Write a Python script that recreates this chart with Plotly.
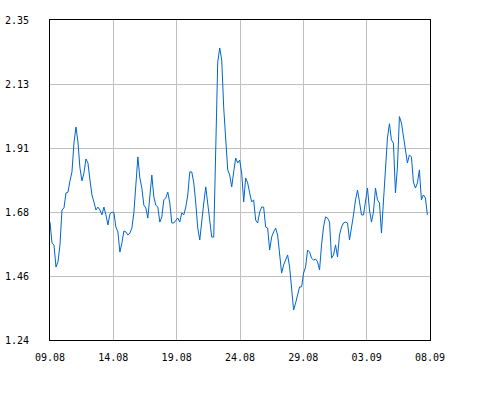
import pandas as pd
import plotly.graph_objects as go

# значения курса (шаг ~3.8 часа начиная с 09.08)
values = [
    1.649, 1.576, 1.570, 1.493, 1.511, 1.570, 1.691, 1.698, 1.750, 1.753,
    1.792, 1.823, 1.923, 1.979, 1.927, 1.837, 1.792, 1.819, 1.868, 1.854,
    1.795, 1.743, 1.719, 1.691, 1.701, 1.691, 1.674, 1.701, 1.674, 1.639,
    1.677, 1.684, 1.681, 1.632, 1.615, 1.545, 1.576, 1.618, 1.615, 1.604,
    1.611, 1.628, 1.681, 1.771, 1.875, 1.802, 1.767, 1.708, 1.698, 1.663,
    1.726, 1.812, 1.736, 1.708, 1.701, 1.649, 1.667, 1.726, 1.733, 1.753,
    1.715, 1.646, 1.646, 1.656, 1.663, 1.649, 1.681, 1.674, 1.701, 1.743,
    1.823, 1.823, 1.785, 1.715, 1.628, 1.587, 1.663, 1.715, 1.771, 1.708,
    1.663, 1.597, 1.597, 1.968, 2.204, 2.253, 2.211, 2.045, 1.941, 1.830,
    1.812, 1.771, 1.823, 1.871, 1.854, 1.864, 1.819, 1.719, 1.802, 1.785,
    1.750, 1.719, 1.726, 1.656, 1.646, 1.684, 1.701, 1.701, 1.632, 1.628,
    1.552, 1.597, 1.615, 1.628, 1.604, 1.542, 1.472, 1.500, 1.517, 1.535,
    1.493, 1.403, 1.344, 1.368, 1.396, 1.424, 1.424, 1.472, 1.493, 1.552,
    1.545, 1.524, 1.517, 1.521, 1.511, 1.483, 1.570, 1.632, 1.667, 1.663,
    1.649, 1.524, 1.535, 1.570, 1.528, 1.604, 1.632, 1.646, 1.649, 1.646,
    1.587, 1.628, 1.674, 1.726, 1.760, 1.719, 1.674, 1.674, 1.726, 1.767,
    1.691, 1.649, 1.684, 1.767, 1.726, 1.715, 1.611, 1.719, 1.802, 1.941,
    1.990, 1.934, 1.923, 1.750, 1.840, 2.015, 1.993, 1.941, 1.889, 1.854,
    1.882, 1.875, 1.788, 1.767, 1.785, 1.830, 1.726, 1.743, 1.733, 1.674,
]
dates = pd.date_range("2024-08-09 00:00", periods=len(values), freq="227min")

x_ticks = pd.date_range("2024-08-09", "2024-09-08", freq="5D")
x_labels = [d.strftime("%d.%m") for d in x_ticks]
y_ticks = [1.24, 1.462, 1.684, 1.906, 2.128, 2.35]
y_labels = ["1.24", "1.46", "1.68", "1.91", "2.13", "2.35"]

fig = go.Figure()
fig.add_trace(go.Scatter(
    x=dates,
    y=values,
    mode="lines",
    line=dict(color="#0066cc", width=1),
    hoverinfo="skip",
))

font = dict(family="DejaVu Sans Mono", size=10, color="#000000")

fig.update_layout(
    width=490,
    height=400,
    margin=dict(l=50, r=60, t=20, b=60),
    paper_bgcolor="white",
    plot_bgcolor="white",
    showlegend=False,
    font=font,
    xaxis=dict(
        range=[x_ticks[0], x_ticks[-1]],
        tickvals=list(x_ticks),
        ticktext=x_labels,
        showgrid=True,
        gridcolor="#c0c0c0",
        gridwidth=1,
        showline=True,
        linecolor="black",
        linewidth=1,
        mirror=True,
        ticks="",
        ticklabelstandoff=8,
        zeroline=False,
        automargin=False,
        tickfont=font,
    ),
    yaxis=dict(
        range=[1.24, 2.35],
        tickvals=y_ticks,
        ticktext=y_labels,
        showgrid=True,
        gridcolor="#c0c0c0",
        gridwidth=1,
        showline=True,
        linecolor="black",
        linewidth=1,
        mirror=True,
        ticks="",
        ticklabelstandoff=18,
        zeroline=False,
        automargin=False,
        tickfont=font,
    ),
)

fig.write_html(
    "out.html",
    config={"displayModeBar": False},
    post_script="document.body.style.margin='0';",
)
